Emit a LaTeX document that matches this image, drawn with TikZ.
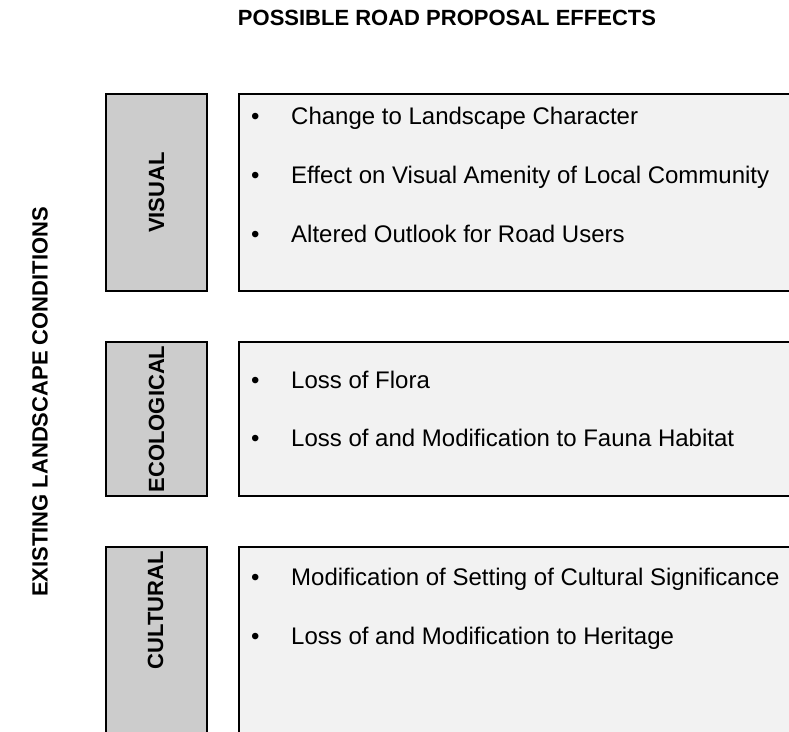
\documentclass[tikz,border=0pt]{standalone}
\usepackage{fontspec}
\setmainfont{Liberation Sans}
\definecolor{catfill}{HTML}{CCCCCC}
\definecolor{efffill}{HTML}{F2F2F2}
\begin{document}
\begin{tikzpicture}[x=1pt,y=-1pt,
  catbox/.style={draw=black, line width=2pt, fill=catfill, anchor=north west, inner sep=0pt},
  effbox/.style={draw=black, line width=2pt, fill=efffill, anchor=north west, inner sep=0pt},
  catlabel/.style={rotate=90, font=\fontsize{22}{24}\selectfont\bfseries},
  headlabel/.style={font=\fontsize{22}{24}\selectfont\bfseries},
  bul/.style={anchor=base west, inner sep=0pt, font=\fontsize{24}{26}\selectfont},
  item/.style={anchor=base west, inner sep=0pt, font=\fontsize{24}{26}\selectfont}]
\useasboundingbox (0,0) rectangle (789,731);
\fill[white] (0,0) rectangle (789,731);
\begin{scope}
\clip (0,0) rectangle (789,731);
% titles
\node[headlabel] (title) at (447,18) {POSSIBLE ROAD PROPOSAL EFFECTS};
\node[headlabel, rotate=90] (side) at (40,402) {EXISTING LANDSCAPE CONDITIONS};
% visual
\node[catbox, minimum width=101pt, minimum height=197pt] (visbox) at (105,93) {};
\node[catlabel] (vislab) at (visbox.center) {VISUAL};
\node[effbox, minimum width=570pt, minimum height=197pt] (viseff) at (238,93) {};
\node[bul] (b1) at (251,124) {\textbullet};
\node[item] (t1) at (291,124) {Change to Landscape Character};
\node[bul] (b2) at (251,183) {\textbullet};
\node[item] (t2) at (291,183) {Effect on Visual Amenity of Local Community};
\node[bul] (b3) at (251,242) {\textbullet};
\node[item] (t3) at (291,242) {Altered Outlook for Road Users};
% ecological
\node[catbox, minimum width=101pt, minimum height=154pt] (ecobox) at (105,341) {};
\node[catlabel] (ecolab) at (ecobox.center) {ECOLOGICAL};
\node[effbox, minimum width=570pt, minimum height=154pt] (ecoeff) at (238,341) {};
\node[bul] (b4) at (251,388) {\textbullet};
\node[item] (t4) at (291,388) {Loss of Flora};
\node[bul] (b5) at (251,446) {\textbullet};
\node[item] (t5) at (291,446) {Loss of and Modification to Fauna Habitat};
% cultural
\node[catbox, minimum width=101pt, minimum height=200pt] (culbox) at (105,546) {};
\node[catlabel] (cullab) at (155.5,610) {CULTURAL};
\node[effbox, minimum width=570pt, minimum height=200pt] (culeff) at (238,546) {};
\node[bul] (b6) at (251,585) {\textbullet};
\node[item] (t6) at (291,585) {Modification of Setting of Cultural Significance};
\node[bul] (b7) at (251,644) {\textbullet};
\node[item] (t7) at (291,644) {Loss of and Modification to Heritage};
\end{scope}
\end{tikzpicture}
\end{document}
